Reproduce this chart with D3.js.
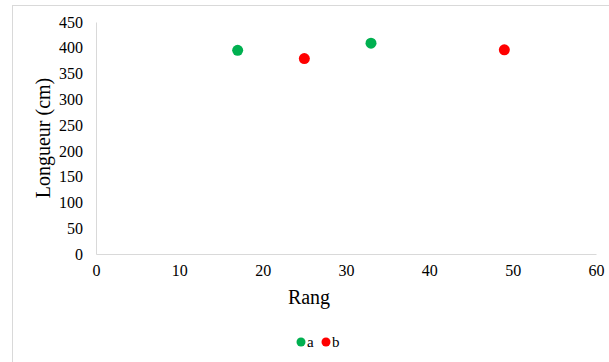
<!DOCTYPE html>
<html><head><meta charset="utf-8">
<script src="https://cdn.jsdelivr.net/npm/d3@7"></script>
<style>body{margin:0;background:#fff}svg{display:block}svg text{font-family:"Liberation Serif","Times New Roman",serif !important;fill:#000}</style>
</head><body><svg id="c" width="609" height="362"></svg>
<script>
const seriesNames = ["a", "b"];
const seriesColors = ["#00B050", "#FF0000"];
const aX = [17, 33];
const aY = [395, 409];
const bX = [25, 49];
const bY = [379, 396];
const xTicks = [0, 10, 20, 30, 40, 50, 60];
const yTicks = [0, 50, 100, 150, 200, 250, 300, 350, 400, 450];
const SERIF = '"Liberation Serif", "Times New Roman", serif';

const svg = d3.select("#c");
svg.append("rect").attr("x", 12.5).attr("y", 5.5).attr("width", 610).attr("height", 380)
  .attr("fill", "#fff").attr("stroke", "#d9d9d9").attr("stroke-width", 1);

const L = 96, R = 596, T = 22, B = 254;
const x = d3.scaleLinear().domain([0, 60]).range([L, R]);
const y = d3.scaleLinear().domain([0, 450]).range([B, T]);

const xa = svg.append("g").attr("transform", `translate(0,${B})`)
  .call(d3.axisBottom(x).tickValues(xTicks).tickSize(0).tickPadding(11))
  .attr("font-family", SERIF).attr("font-size", 16);
xa.select(".domain").attr("stroke", "#d9d9d9");
xa.selectAll("text").style("font-family", SERIF).style("font-size", "16px");

const ya = svg.append("g").attr("transform", `translate(${L},0)`)
  .call(d3.axisLeft(y).tickValues(yTicks).tickSize(0).tickPadding(13))
  .attr("font-family", SERIF).attr("font-size", 16);
ya.select(".domain").attr("stroke", "#d9d9d9");
ya.selectAll("text").style("font-family", SERIF).style("font-size", "16px");

svg.append("text").attr("x", 309).attr("y", 304).attr("text-anchor", "middle")
  .attr("font-size", 20).text("Rang");
svg.append("text").attr("transform", `translate(50,${(T + B) / 2}) rotate(-90)`)
  .attr("text-anchor", "middle").attr("font-size", 20).text("Longueur (cm)");

const series = [
  {name: seriesNames[0], color: seriesColors[0], xs: aX, ys: aY},
  {name: seriesNames[1], color: seriesColors[1], xs: bX, ys: bY}
];
series.forEach(s => {
  svg.append("g").selectAll("circle").data(s.xs.map((v, i) => [v, s.ys[i]])).join("circle")
    .attr("cx", d => x(d[0])).attr("cy", d => y(d[1])).attr("r", 5.5).attr("fill", s.color);
});

const lg = svg.append("g");
series.forEach((s, i) => {
  const gx = 301 + i * 25;
  lg.append("circle").attr("cx", gx).attr("cy", 342).attr("r", 4.5).attr("fill", s.color);
  lg.append("text").attr("x", gx + 6).attr("y", 347).attr("font-size", 15).text(s.name);
});
</script></body></html>
